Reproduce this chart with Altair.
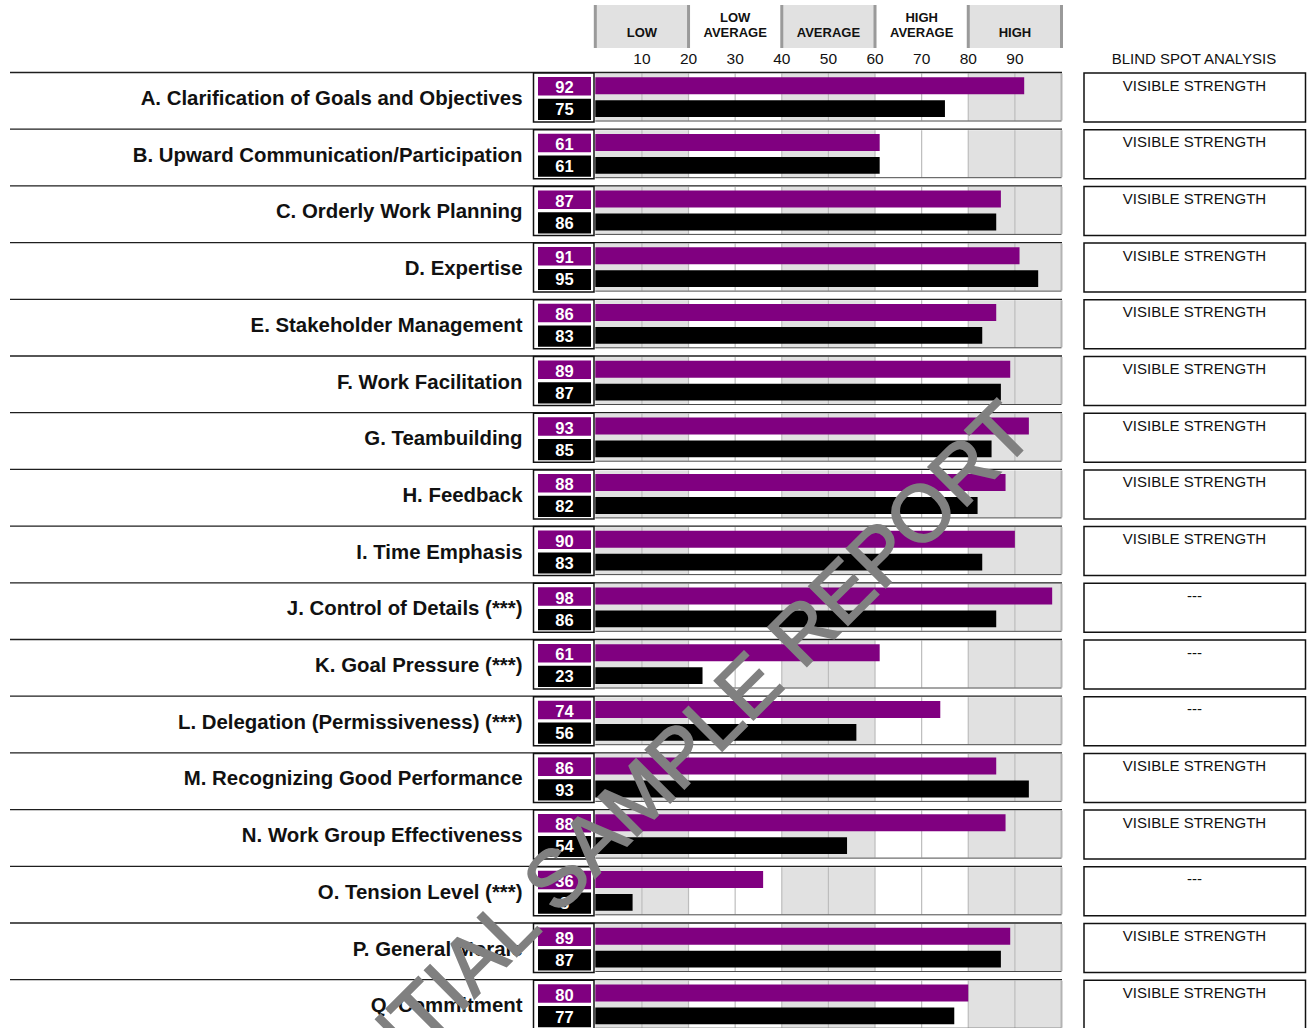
import altair as alt
import pandas as pd

FONT = "Liberation Sans"
PURPLE = "#800080"
BAND_GREY = "#e1e1e1"

# ---- data -------------------------------------------------------------
labels = [
    "A. Clarification of Goals and Objectives",
    "B. Upward Communication/Participation",
    "C. Orderly Work Planning",
    "D. Expertise",
    "E. Stakeholder Management",
    "F. Work Facilitation",
    "G. Teambuilding",
    "H. Feedback",
    "I. Time Emphasis",
    "J. Control of Details (***)",
    "K. Goal Pressure (***)",
    "L. Delegation (Permissiveness) (***)",
    "M. Recognizing Good Performance",
    "N. Work Group Effectiveness",
    "O. Tension Level (***)",
    "P. General Morale",
    "Q. Commitment",
]
others_scores = [92, 61, 87, 91, 86, 89, 93, 88, 90, 98, 61, 74, 86, 88, 36, 89, 80]
self_scores = [75, 61, 86, 95, 83, 87, 85, 82, 83, 86, 23, 56, 93, 54, 8, 87, 77]
blind_spot = [
    "VISIBLE STRENGTH", "VISIBLE STRENGTH", "VISIBLE STRENGTH", "VISIBLE STRENGTH",
    "VISIBLE STRENGTH", "VISIBLE STRENGTH", "VISIBLE STRENGTH", "VISIBLE STRENGTH",
    "VISIBLE STRENGTH", "---", "---", "---", "VISIBLE STRENGTH", "VISIBLE STRENGTH",
    "---", "VISIBLE STRENGTH", "VISIBLE STRENGTH",
]

zone_start = [0, 20, 40, 60, 80]
zone_end = [20, 40, 60, 80, 100]
zone_shaded = [True, False, True, False, True]
zone_line1 = ["", "LOW", "", "HIGH", ""]
zone_line2 = ["LOW", "AVERAGE", "AVERAGE", "AVERAGE", "HIGH"]
tick_values = [10, 20, 30, 40, 50, 60, 70, 80, 90]
blind_title = "BLIND SPOT ANALYSIS"
watermark = "CONFIDENTIAL SAMPLE REPORT"

# ---- tables -------------------------------------------------------------
rows = pd.DataFrame({
    "row": list(range(len(labels))),
    "label": labels,
    "others": others_scores,
    "self": self_scores,
    "blind": blind_spot,
})
zones = pd.DataFrame({
    "start": zone_start, "end": zone_end, "shaded": zone_shaded,
    "mid": [(a + b) / 2 for a, b in zip(zone_start, zone_end)],
    "line1": zone_line1, "line2": zone_line2,
})
row_bands = pd.DataFrame([
    {"row": r, "start": s, "end": e}
    for r in rows["row"] for s, e, sh in zip(zone_start, zone_end, zone_shaded) if sh
])
row_grid = pd.DataFrame([{"row": r, "v": v} for r in rows["row"] for v in tick_values])
ticks = pd.DataFrame({"v": tick_values, "txt": [str(v) for v in tick_values]})

# ---- scales -------------------------------------------------------------
xs = alt.Scale(domain=[0, 100], range=[595.3, 1061.5], nice=False, zero=False)
n = len(labels)
ys = alt.Scale(domain=[0, n], range=[72.5, 72.5 + n * 56.7], nice=False, zero=False)


def X(f):
    return alt.X(f, scale=xs, axis=None)


def Y(f):
    return alt.Y(f, scale=ys, axis=None)


base = alt.Chart(rows)

# header: score zones
header_fill = alt.Chart(zones).transform_filter("datum.shaded").mark_rect(
    color=BAND_GREY
).encode(x=X("start:Q"), x2="end:Q", y=alt.value(5), y2=alt.value(48))
header_edges = alt.Chart(pd.DataFrame({"v": [0, 20, 40, 60, 80, 100]})).mark_rule(
    color="#9a9a9a", strokeWidth=3
).encode(x=X("v:Q"), y=alt.value(5), y2=alt.value(48))
header_l1 = alt.Chart(zones).mark_text(
    font=FONT, fontSize=13, fontWeight="bold", color="#111", baseline="alphabetic"
).encode(x=X("mid:Q"), y=alt.value(21.5), text="line1:N")
header_l2 = alt.Chart(zones).mark_text(
    font=FONT, fontSize=13, fontWeight="bold", color="#111", baseline="alphabetic"
).encode(x=X("mid:Q"), y=alt.value(37), text="line2:N")
tick_text = alt.Chart(ticks).mark_text(
    font=FONT, fontSize=15.5, color="#111", baseline="alphabetic"
).encode(x=X("v:Q"), y=alt.value(64), text="txt:N")
blind_head = alt.Chart(pd.DataFrame({"t": [blind_title]})).mark_text(
    font=FONT, fontSize=15, color="#111", baseline="alphabetic"
).encode(x=alt.value(1194), y=alt.value(63.5), text="t:N")

# row frame: top separator, shaded bands, grid lines, edges
row_top = base.mark_rule(color="#1e1e1e", strokeWidth=1.3).encode(
    y=Y("row:Q"), x=alt.value(10), x2=alt.value(1062)
)
bands = alt.Chart(row_bands).mark_rect(color=BAND_GREY, yOffset=1, y2Offset=48).encode(
    x=X("start:Q"), x2="end:Q", y=Y("row:Q"), y2="row:Q"
)
grid = alt.Chart(row_grid).mark_rule(
    color="#bdbdbd", strokeWidth=1.2, yOffset=1, y2Offset=48
).encode(x=X("v:Q"), y=Y("row:Q"), y2="row:Q")
right_edge = base.mark_rule(
    color="#b3b3b3", strokeWidth=2, yOffset=1, y2Offset=48
).encode(x=alt.X(datum=100, scale=xs, axis=None), y=Y("row:Q"), y2="row:Q")
bottom_edge = base.mark_rule(color="#4a4a4a", strokeWidth=1, yOffset=48.5).encode(
    y=Y("row:Q"), x=alt.X(datum=0, scale=xs, axis=None), x2=alt.X2(datum=100)
)

# score bars
bar_others = base.mark_rect(color=PURPLE, yOffset=4.7, y2Offset=21.7).encode(
    x=X("others:Q"), x2=alt.X2(datum=0), y=Y("row:Q"), y2="row:Q"
)
bar_self = base.mark_rect(color="#000000", yOffset=27.7, y2Offset=44.5).encode(
    x=X("self:Q"), x2=alt.X2(datum=0), y=Y("row:Q"), y2="row:Q"
)

# score boxes
box_outer = base.mark_rect(
    fill="white", stroke="#111", strokeWidth=1.5, yOffset=0.5, y2Offset=49.5
).encode(x=alt.value(533.5), x2=alt.value(594), y=Y("row:Q"), y2="row:Q")
box_others = base.mark_rect(color=PURPLE, yOffset=4.5, y2Offset=23).encode(
    x=alt.value(538), x2=alt.value(591), y=Y("row:Q"), y2="row:Q"
)
box_self = base.mark_rect(color="#000000", yOffset=26.3, y2Offset=47.5).encode(
    x=alt.value(538), x2=alt.value(591), y=Y("row:Q"), y2="row:Q"
)
num_others = base.mark_text(
    font=FONT, fontSize=16.5, fontWeight="bold", color="white",
    baseline="alphabetic", yOffset=20.8
).encode(x=alt.value(564.5), y=Y("row:Q"), text="others:Q")
num_self = base.mark_text(
    font=FONT, fontSize=16.5, fontWeight="bold", color="white",
    baseline="alphabetic", yOffset=42.8
).encode(x=alt.value(564.5), y=Y("row:Q"), text="self:Q")

# dimension labels
label_text = base.mark_text(
    font=FONT, fontSize=20.4, fontWeight="bold", color="#111",
    align="right", baseline="alphabetic", yOffset=32.5
).encode(x=alt.value(522.5), y=Y("row:Q"), text="label:N")

# blind spot column
blind_box = base.mark_rect(
    fill="white", stroke="#111", strokeWidth=1.5, yOffset=0.5, y2Offset=49.5
).encode(x=alt.value(1084), x2=alt.value(1305.5), y=Y("row:Q"), y2="row:Q")
blind_text = base.mark_text(
    font=FONT, fontSize=15, color="#111", baseline="alphabetic", yOffset=18
).encode(x=alt.value(1194.5), y=Y("row:Q"), text="blind:N")

# watermark
mark_wm = alt.Chart(pd.DataFrame({"t": [watermark]})).mark_text(
    font=FONT, fontSize=80, color="#808080", stroke="#808080", strokeWidth=1.8,
    align="right", baseline="alphabetic", angle=315
).encode(x=alt.value(1037), y=alt.value(436), text="t:N")

chart = alt.layer(
    header_fill, header_edges, header_l1, header_l2, tick_text, blind_head,
    bands, grid, right_edge, bottom_edge, row_top,
    bar_others, bar_self,
    box_outer, box_others, box_self, num_others, num_self,
    label_text, blind_box, blind_text, mark_wm,
).properties(
    width=1307, height=1028,
    autosize=alt.AutoSizeParams(type="none"),
    padding=0,
    background="white",
).configure_view(stroke=None)

chart.save("out.html", embed_options={"renderer": "svg", "actions": False})
